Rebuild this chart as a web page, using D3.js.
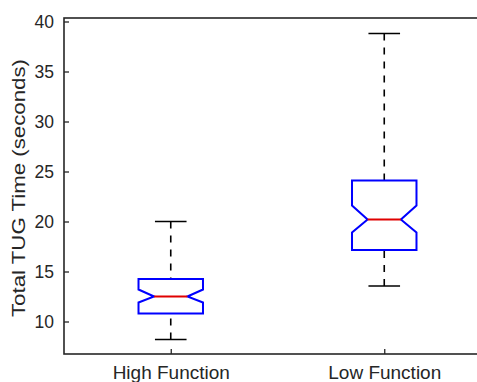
<!DOCTYPE html>
<html>
<head>
<meta charset="utf-8">
<script src="https://cdn.jsdelivr.net/npm/d3@7"></script>
<style>
  body { margin: 0; background: #fff; }
  svg text { font-family: "Liberation Sans", Arial, sans-serif; fill: #262626; }
</style>
</head>
<body>
<div id="chart"></div>
<script>
// box plot values
var groups = ["High Function", "Low Function"];
var lowerWhisker = [8.2, 13.55];
var q1 = [10.8, 17.15];
var median = [12.5, 20.2];
var q3 = [14.25, 24.1];
var upperWhisker = [20.0, 38.8];
var notchLow = [11.9, 18.9];
var notchHigh = [13.2, 21.6];
var yTicks = [10, 15, 20, 25, 30, 35, 40];

var width = 477, height = 382;

var svg = d3.select("#chart").append("svg")
    .attr("width", width)
    .attr("height", height);

// x in group units (1, 2), y in seconds
var x = d3.scaleLinear().domain([0.5, 2.5]).range([64, 491]);
var y = d3.scaleLinear().domain([6.75, 40.35]).range([354, 18]);

var boxHalf = 0.151, notchHalf = 0.078, capHalf = 0.074;

// axes frame
svg.append("rect")
    .attr("x", x(0.5))
    .attr("y", y(40.35))
    .attr("width", x(2.5) - x(0.5))
    .attr("height", y(6.75) - y(40.35))
    .attr("fill", "none")
    .attr("stroke", "#262626")
    .attr("stroke-width", 1.6);

// y axis, ticks pointing in
var yAxis = d3.axisLeft(y)
    .tickValues(yTicks)
    .tickSizeInner(-5)
    .tickSizeOuter(0)
    .tickPadding(10);

var gy = svg.append("g")
    .attr("transform", "translate(" + x(0.5) + ",0)")
    .call(yAxis);
gy.select(".domain").remove();
gy.selectAll("line").attr("stroke", "#262626").attr("stroke-width", 1.3);
gy.selectAll("text")
    .style("font-size", "17.5px")
    .attr("dy", "0.35em");

// x axis with group names
var xAxis = d3.axisBottom(x)
    .tickValues([1, 2])
    .tickFormat(function(d){ return groups[d - 1]; })
    .tickSizeInner(-5)
    .tickSizeOuter(0)
    .tickPadding(12);

var gx = svg.append("g")
    .attr("transform", "translate(0," + y(6.75) + ")")
    .call(xAxis);
gx.select(".domain").remove();
gx.selectAll("line").attr("stroke", "#262626").attr("stroke-width", 1.3);
gx.selectAll("text")
    .style("font-size", "19px")
    .attr("dy", "0.71em")
    .attr("fill", "#262626");

// y label
svg.append("text")
    .attr("transform", "translate(25,188) rotate(-90)")
    .attr("text-anchor", "middle")
    .attr("textLength", 258)
    .attr("lengthAdjust", "spacingAndGlyphs")
    .style("font-size", "19px")
    .text("Total TUG Time (seconds)");

var idx = d3.range(groups.length);
var g = svg.append("g");

// whiskers (dashed)
g.selectAll(".whiskerUp").data(idx).enter().append("line")
    .attr("x1", function(i){ return x(i + 1); })
    .attr("x2", function(i){ return x(i + 1); })
    .attr("y1", function(i){ return y(upperWhisker[i]); })
    .attr("y2", function(i){ return y(q3[i]); })
    .attr("stroke", "#000")
    .attr("stroke-width", 1.6)
    .attr("stroke-dasharray", "7,7");

g.selectAll(".whiskerDown").data(idx).enter().append("line")
    .attr("x1", function(i){ return x(i + 1); })
    .attr("x2", function(i){ return x(i + 1); })
    .attr("y1", function(i){ return y(lowerWhisker[i]); })
    .attr("y2", function(i){ return y(q1[i]); })
    .attr("stroke", "#000")
    .attr("stroke-width", 1.6)
    .attr("stroke-dasharray", "7,7");

// caps
[upperWhisker, lowerWhisker].forEach(function(arr){
    g.selectAll(null).data(idx).enter().append("line")
        .attr("x1", function(i){ return x(i + 1 - capHalf); })
        .attr("x2", function(i){ return x(i + 1 + capHalf); })
        .attr("y1", function(i){ return y(arr[i]); })
        .attr("y2", function(i){ return y(arr[i]); })
        .attr("stroke", "#000")
        .attr("stroke-width", 1.6);
});

// notched boxes
g.selectAll(".box").data(idx).enter().append("path")
    .attr("d", function(i){
        var c = i + 1;
        var pts = [
            [c - boxHalf, q3[i]], [c + boxHalf, q3[i]],
            [c + boxHalf, notchHigh[i]], [c + notchHalf, median[i]],
            [c + boxHalf, notchLow[i]], [c + boxHalf, q1[i]],
            [c - boxHalf, q1[i]], [c - boxHalf, notchLow[i]],
            [c - notchHalf, median[i]], [c - boxHalf, notchHigh[i]]
        ];
        return "M" + pts.map(function(p){ return x(p[0]) + "," + y(p[1]); }).join("L") + "Z";
    })
    .attr("fill", "#fff")
    .attr("stroke", "#0000ff")
    .attr("stroke-width", 2);

// medians
g.selectAll(".median").data(idx).enter().append("line")
    .attr("x1", function(i){ return x(i + 1 - notchHalf); })
    .attr("x2", function(i){ return x(i + 1 + notchHalf); })
    .attr("y1", function(i){ return y(median[i]); })
    .attr("y2", function(i){ return y(median[i]); })
    .attr("stroke", "#e00000")
    .attr("stroke-width", 1.8);
</script>
</body>
</html>
